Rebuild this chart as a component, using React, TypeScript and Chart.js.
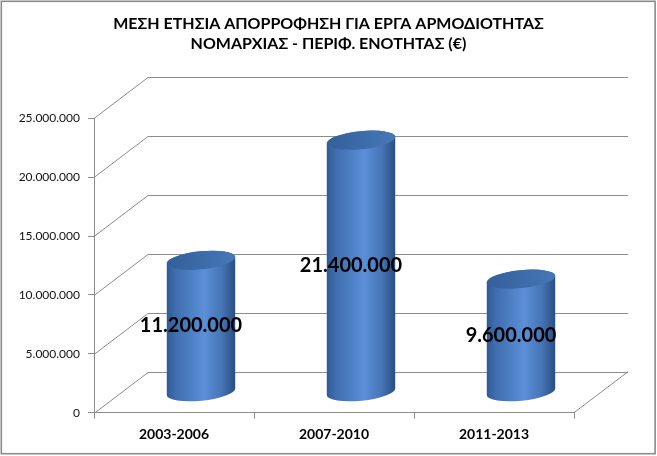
import React, { useEffect, useRef } from "react";
import { Chart, registerables } from "chart.js";

Chart.register(...registerables);

const categories = ["2003-2006", "2007-2010", "2011-2013"];
const values = [11200000, 21400000, 9600000];
const titleLines = [
  "ΜΕΣΗ ΕΤΗΣΙΑ ΑΠΟΡΡΟΦΗΣΗ ΓΙΑ ΕΡΓΑ ΑΡΜΟΔΙΟΤΗΤΑΣ",
  "ΝΟΜΑΡΧΙΑΣ - ΠΕΡΙΦ. ΕΝΟΤΗΤΑΣ (€)",
];
const yMin = 0;
const yMax = 25000000;
const yStep = 5000000;

const DX = 54;
const DY = -41;
const GRID = "#8c8c8c";

const fmt = (v: number) =>
  Math.round(v).toString().replace(/\B(?=(\d{3})+(?!\d))/g, ".");

const threeD = {
  id: "threeD",
  beforeDraw(chart: any) {
    const ctx = chart.ctx;
    ctx.save();
    ctx.fillStyle = "#ffffff";
    ctx.fillRect(0, 0, chart.width, chart.height);
    ctx.strokeStyle = "#8a8a8a";
    ctx.lineWidth = 1.6;
    ctx.strokeRect(1.3, 1.3, chart.width - 3.2, chart.height - 3.6);
    ctx.restore();
  },
  beforeDatasetsDraw(chart: any) {
    const ctx = chart.ctx;
    const ys = chart.scales.y;
    const { left, right, bottom } = chart.chartArea;
    ctx.save();
    ctx.strokeStyle = GRID;
    ctx.lineWidth = 1;
    ys.ticks.forEach((t: any) => {
      const py = Math.round(ys.getPixelForValue(t.value)) + 0.5;
      ctx.beginPath();
      ctx.moveTo(left, py);
      ctx.lineTo(left + DX, py + DY);
      ctx.lineTo(right + DX, py + DY);
      ctx.stroke();
    });
    ctx.beginPath();
    ctx.moveTo(right, bottom);
    ctx.lineTo(right + DX, bottom + DY);
    ctx.stroke();
    ctx.restore();
  },
  afterDatasetsDraw(chart: any) {
    const ctx = chart.ctx;
    const meta = chart.getDatasetMeta(0);
    const ry = 9;
    const rot = -0.1;
    ctx.save();
    meta.data.forEach((bar: any) => {
      const cx = bar.x + DX / 2;
      const topY = bar.y + DY / 2;
      const botY = bar.base + DY / 2;
      const rx = bar.width / 2;
      const g = ctx.createLinearGradient(cx - rx, 0, cx + rx, 0);
      g.addColorStop(0, "#2f5a93");
      g.addColorStop(0.12, "#3e6dad");
      g.addColorStop(0.55, "#5b8fd7");
      g.addColorStop(0.8, "#4674b6");
      g.addColorStop(1, "#2a4f80");
      ctx.beginPath();
      ctx.ellipse(cx, botY, rx, ry, rot, 0, Math.PI, false);
      ctx.ellipse(cx, topY, rx, ry, rot, Math.PI, Math.PI * 2, false);
      ctx.closePath();
      ctx.fillStyle = g;
      ctx.fill();
      const gt = ctx.createLinearGradient(cx - rx, topY, cx + rx, topY);
      gt.addColorStop(0, "#335f9a");
      gt.addColorStop(1, "#4677b7");
      ctx.beginPath();
      ctx.ellipse(cx, topY, rx, ry, rot, 0, Math.PI * 2);
      ctx.fillStyle = gt;
      ctx.fill();
    });
    ctx.font = "bold 20px Lato";
    ctx.fillStyle = "#000000";
    ctx.textAlign = "center";
    ctx.textBaseline = "middle";
    meta.data.forEach((bar: any, i: number) => {
      const cx = bar.x + DX / 2 - 10;
      const my = (bar.y + bar.base) / 2 + DY / 2;
      ctx.fillText(fmt(values[i]), cx, my);
    });
    ctx.restore();
  },
};

export default function App() {
  const ref = useRef<HTMLCanvasElement>(null);
  useEffect(() => {
    document.body.style.margin = "0";
    const canvas = ref.current!;
    const chart = new Chart(canvas, {
      type: "bar",
      data: {
        labels: categories,
        datasets: [
          {
            data: values,
            backgroundColor: "rgba(0,0,0,0)",
            borderWidth: 0,
            barPercentage: 0.43,
            categoryPercentage: 1,
          },
        ],
      },
      options: {
        responsive: false,
        animation: false,
        layout: { padding: 0 },
        font: { family: "Lato" },
        plugins: {
          legend: { display: false },
          tooltip: { enabled: false },
          title: {
            display: true,
            text: titleLines,
            color: "#000000",
            font: { family: "Lato", size: 16, weight: "bold", lineHeight: 1.25 },
            padding: { top: 14, bottom: 64.3 },
          },
        },
        scales: {
          x: {
            grid: {
              drawOnChartArea: false,
              drawTicks: true,
              tickLength: 6,
              color: GRID,
              offset: true,
            },
            border: { display: true, color: GRID },
            ticks: {
              color: "#000000",
              padding: 7,
              font: { family: "Lato", size: 14, weight: "bold" },
            },
            afterFit: (s: any) => {
              s.height = 43.3;
            },
          },
          y: {
            min: yMin,
            max: yMax,
            ticks: {
              stepSize: yStep,
              color: "#111111",
              padding: 8,
              font: { family: "Lato", size: 12 },
              callback: (v: any) => fmt(Number(v)),
            },
            grid: {
              drawOnChartArea: false,
              drawTicks: true,
              tickLength: 6,
              color: GRID,
            },
            border: { display: true, color: GRID },
            afterFit: (s: any) => {
              s.width = 94;
            },
          },
          y2: {
            type: "linear",
            position: "right",
            display: true,
            grid: { display: false },
            border: { display: false },
            ticks: { display: false },
            afterFit: (s: any) => {
              s.width = 83;
            },
          },
        },
      },
      plugins: [threeD],
    });
    return () => chart.destroy();
  }, []);
  return (
    <div style={{ width: 657, height: 456 }}>
      <canvas ref={ref} width={657} height={456} />
    </div>
  );
}
